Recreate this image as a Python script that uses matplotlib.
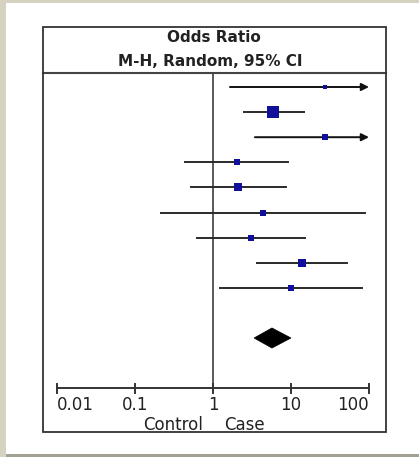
import numpy as np
import matplotlib
matplotlib.use("Agg")
import matplotlib.pyplot as plt
from matplotlib.patches import Rectangle, Polygon

# study odds ratios (M-H, random, 95% CI)
est = [27.0, 5.9, 27.0, 2.03, 2.09, 4.4, 3.07, 13.8, 10.0]
lo = [1.65, 2.5, 3.45, 0.44, 0.52, 0.215, 0.62, 3.66, 1.23]
hi = [400.0, 14.7, 400.0, 9.1, 8.6, 89.0, 15.1, 52.0, 81.0]
size = [3.5, 8.0, 4.0, 5.0, 5.5, 4.0, 5.0, 5.5, 4.5]
pooled = (5.7, 3.36, 10.0)  # est, lo, hi
ticks = [0.01, 0.1, 1, 10, 100]
tick_labels = ["0.01", "0.1", "1", "10", "100"]

W, H = 419, 457
fig = plt.figure(figsize=(W / 100, H / 100), dpi=100)
fig.patch.set_facecolor("#d5d3c0")

def fx(px):
    return px / W

def fy(py):
    return 1 - py / H

# white panel + bottom shadow
fig.patches.append(Rectangle((fx(6), 0), fx(413), fy(451),
                             transform=fig.transFigure, facecolor="#a3a191", edgecolor="none", zorder=-2))
fig.patches.append(Rectangle((fx(6), fy(454)), fx(413), fy(3) - fy(454),
                             transform=fig.transFigure, facecolor="white", edgecolor="none", zorder=-1))

# chart box
fig.patches.append(Rectangle((fx(43), fy(432)), fx(343), fy(27) - fy(432),
                             transform=fig.transFigure, facecolor="none", edgecolor="#333333",
                             linewidth=1.3, zorder=5))
fig.add_artist(plt.Line2D([fx(43), fx(386)], [fy(73), fy(73)], transform=fig.transFigure,
                          color="#444444", linewidth=1.5, zorder=5))

fig.text(fx(214), fy(37), "Odds Ratio", ha="center", va="center", fontsize=11,
         fontweight="bold", color="#222222")
fig.text(fx(210), fy(62), "M-H, Random, 95% CI", ha="center", va="center", fontsize=11,
         fontweight="bold", color="#222222")

ax = fig.add_axes([fx(43), fy(432), fx(343), fy(73) - fy(432)])
ax.set_zorder(3)
ax.set_xscale("log")
ax.set_xlim(10 ** ((43 - 213) / 78), 10 ** ((386 - 213) / 78))
ax.set_ylim((432 - 87) / 25.1, (73 - 87) / 25.1)
ax.axis("off")

ax.plot([1, 1], [(73 - 87) / 25.1, 12], color="#5a5a5a", linewidth=1.4, zorder=1)

for i in range(len(est)):
    top = min(hi[i], 100)
    if hi[i] > 100:
        ax.annotate("", xy=(top, i), xytext=(lo[i], i),
                    arrowprops=dict(arrowstyle="-|>", color="#111111", lw=1.4,
                                    mutation_scale=11, shrinkA=0, shrinkB=0))
    else:
        ax.plot([lo[i], top], [i, i], color="#2a2a2a", linewidth=1.4, zorder=2)
    ax.plot(est[i], i, marker="s", markersize=size[i], color="#10109a",
            markeredgewidth=0, zorder=3)

pe, pl, ph = pooled
ax.add_patch(Polygon([(pl, 10), (pe, 9.6), (ph, 10), (pe, 10.4)], closed=True,
                     facecolor="black", edgecolor="black", linewidth=0.5))

# custom x axis
ax.plot([ticks[0], ticks[-1]], [12, 12], color="#333333", linewidth=1.4)
aligns = ["left", "center", "center", "center", "right"]
for t, lab, ha in zip(ticks, tick_labels, aligns):
    ax.plot([t, t], [11.82, 12.18], color="#333333", linewidth=1.4)
    ax.text(t, 12.68, lab, ha=ha, va="center", fontsize=12, color="#222222")

fig.text(fx(173), fy(425), "Control", ha="center", va="center", fontsize=12, color="#222222")
fig.text(fx(244), fy(425), "Case", ha="center", va="center", fontsize=12, color="#222222")

fig.savefig("out.png", dpi=100, facecolor=fig.get_facecolor())
